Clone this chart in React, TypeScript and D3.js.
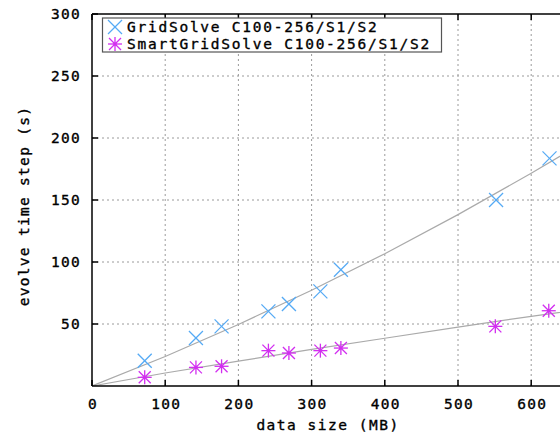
import React from "react";
import * as d3 from "d3";

const gridX = [72, 142, 177, 241, 269, 312, 340, 552, 625];
const gridY = [20.4, 38.7, 48.1, 60.2, 66.1, 76.3, 93.8, 150, 183.6];
const smartX = [72, 142, 177, 241, 269, 312, 340, 551, 624];
const smartY = [7, 15, 15.9, 28.5, 26.6, 28.5, 30.6, 48.1, 60.7];
const fitX = [0, 100, 200, 300, 400, 500, 600, 660];
const gridFitY = [0, 23.8, 49.6, 77.2, 106.7, 138.2, 171.5, 192.5];
const smartFitY = [0, 10.5, 20, 29.5, 38.5, 47.5, 56.2, 61];
const xTicks = [0, 100, 200, 300, 400, 500, 600];
const yTicks = [50, 100, 150, 200, 250, 300];
const seriesNames = ["GridSolve C100-256/S1/S2", "SmartGridSolve C100-256/S1/S2"];

const W = 560, H = 440;
const x = d3.scaleLinear().domain([0, 100]).range([92, 165.2]);
const y = d3.scaleLinear().domain([0, 300]).range([386, 14]);
const FONT = "'DejaVu Sans Mono', monospace";
const BLUE = "#55aaf5";
const MAG = "#d22ef0";

function Cross({ cx, cy }: { cx: number; cy: number }) {
  const s = 7;
  return (
    <g stroke={BLUE} strokeWidth={1.3}>
      <line x1={cx - s} y1={cy - s} x2={cx + s} y2={cy + s} />
      <line x1={cx - s} y1={cy + s} x2={cx + s} y2={cy - s} />
    </g>
  );
}

function Star({ cx, cy }: { cx: number; cy: number }) {
  const s = 7;
  const d = 6;
  return (
    <g stroke={MAG} strokeWidth={1.3}>
      <line x1={cx - s} y1={cy} x2={cx + s} y2={cy} />
      <line x1={cx} y1={cy - s} x2={cx} y2={cy + s} />
      <line x1={cx - d} y1={cy - d} x2={cx + d} y2={cy + d} />
      <line x1={cx - d} y1={cy + d} x2={cx + d} y2={cy - d} />
      <circle cx={cx} cy={cy} r={1.8} fill={MAG} stroke="none" />
    </g>
  );
}

export default function App() {
  const line = d3.line<number>().x((_, i) => x(fitX[i])).y((v) => y(v));
  const xMax = W;
  const textStyle = { stroke: "#000", strokeWidth: 0.35 };
  return (
    <svg width={W} height={H} style={{ position: "absolute", left: 0, top: 0, background: "#fff" }}>
      <defs>
        <clipPath id="plot">
          <rect x={92} y={14} width={W - 92} height={372} />
        </clipPath>
      </defs>
      <g stroke="#9a9a9a" strokeWidth={1} strokeDasharray="2,3">
        {xTicks.filter((t) => t > 0).map((t) => (
          <line key={"gx" + t} x1={x(t)} x2={x(t)} y1={14} y2={386} />
        ))}
        {yTicks.filter((t) => t < 300).map((t) => (
          <line key={"gy" + t} x1={92} x2={xMax} y1={y(t)} y2={y(t)} />
        ))}
      </g>
      <g clipPath="url(#plot)" fill="none" stroke="#aaaaaa" strokeWidth={1.2}>
        <path d={line(gridFitY) || ""} />
        <path d={line(smartFitY) || ""} />
      </g>
      <g clipPath="url(#plot)">
        {gridX.map((v, i) => (
          <Cross key={"g" + i} cx={x(v)} cy={y(gridY[i])} />
        ))}
        {smartX.map((v, i) => (
          <Star key={"s" + i} cx={x(v)} cy={y(smartY[i])} />
        ))}
      </g>
      <g stroke="#000" strokeWidth={1.5} fill="none">
        <line x1={92} x2={92} y1={14} y2={386} />
        <line x1={92} x2={xMax} y1={386} y2={386} />
        <line x1={92} x2={xMax} y1={14} y2={14} />
        {xTicks.map((t) => (
          <g key={"tx" + t}>
            <line x1={x(t)} x2={x(t)} y1={386} y2={380} />
            <line x1={x(t)} x2={x(t)} y1={14} y2={20} />
          </g>
        ))}
        {yTicks.map((t) => (
          <line key={"ty" + t} x1={92} x2={98} y1={y(t)} y2={y(t)} />
        ))}
      </g>
      <g fontFamily={FONT} fontSize={14.5} fill="#000" style={{ letterSpacing: "1.3px", ...textStyle }}>
        {xTicks.map((t) => (
          <text key={"lx" + t} x={x(t) + 1} y={409} textAnchor="middle">
            {t}
          </text>
        ))}
        {yTicks.map((t) => (
          <text key={"ly" + t} x={81} y={y(t) + 5} textAnchor="end">
            {t}
          </text>
        ))}
      </g>
      <text x={328} y={430} textAnchor="middle" fontFamily={FONT} fontSize={14.5} style={{ letterSpacing: "1.5px", ...textStyle }}>
        data size (MB)
      </text>
      <text
        transform="translate(29,206) rotate(-90)"
        textAnchor="middle"
        fontFamily={FONT}
        fontSize={14.5}
        style={{ letterSpacing: "1.3px", ...textStyle }}
      >
        evolve time step (s)
      </text>
      <rect x={102.5} y={18} width={339} height={34} fill="#fff" stroke="#555" strokeWidth={1.2} />
      <Cross cx={115} cy={27} />
      <Star cx={115} cy={44} />
      <g fontFamily={FONT} fontSize={14.5} fill="#000" style={{ letterSpacing: "1.75px", ...textStyle }}>
        <text x={127} y={32}>{seriesNames[0]}</text>
        <text x={127} y={49}>{seriesNames[1]}</text>
      </g>
    </svg>
  );
}
